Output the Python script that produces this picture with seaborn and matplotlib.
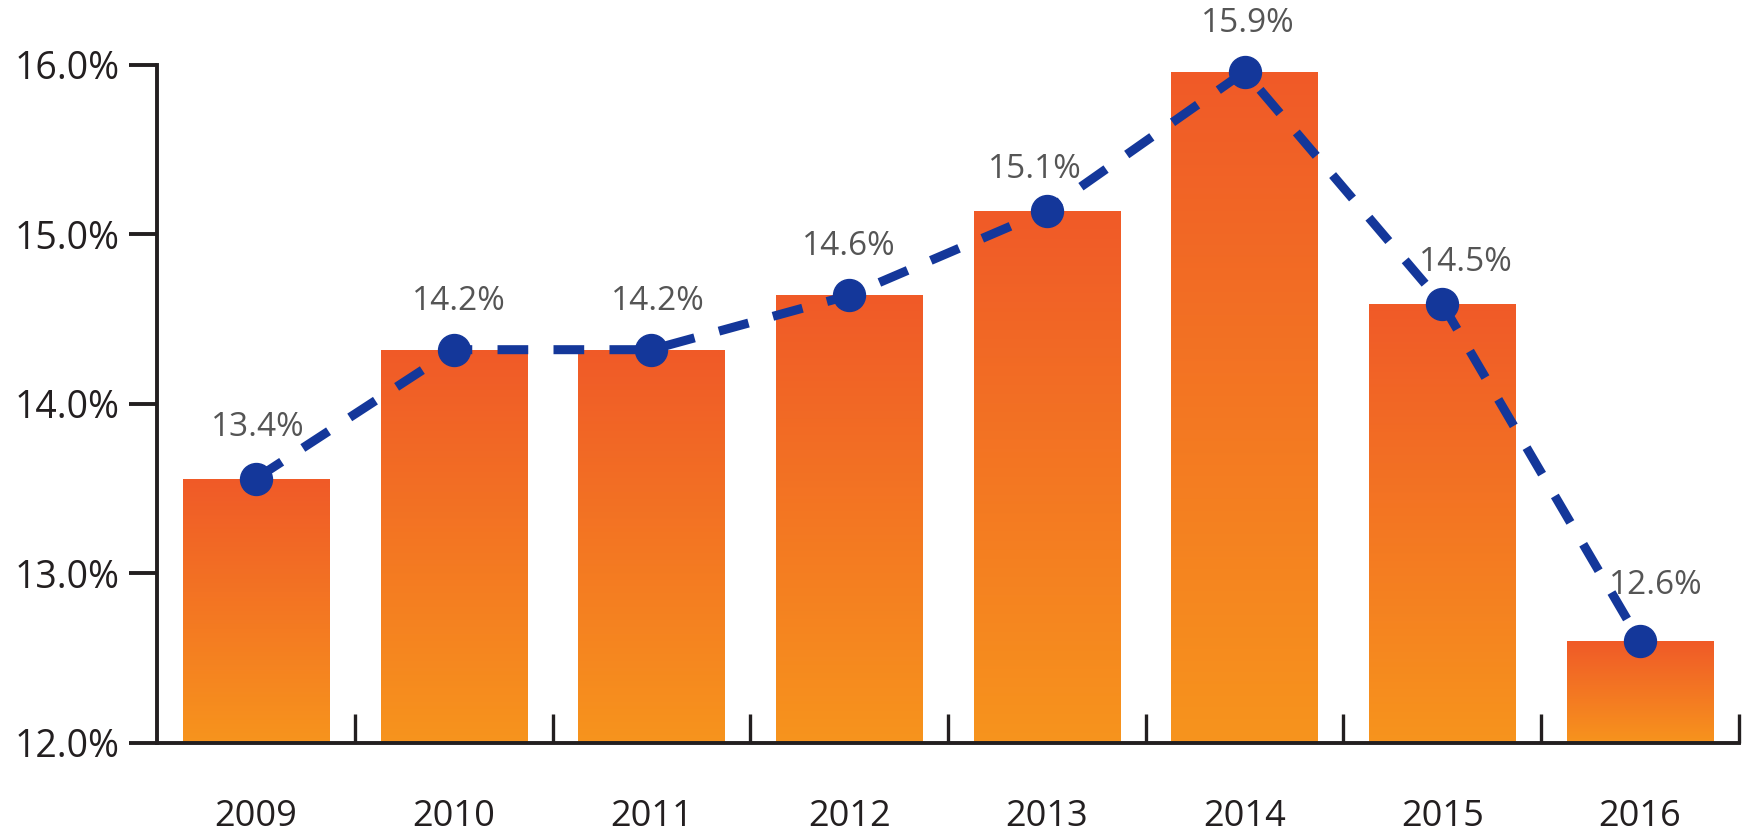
import seaborn as sns
import matplotlib
matplotlib.use("Agg")
import matplotlib.pyplot as plt
import numpy as np
import pandas as pd
from matplotlib.ticker import FixedLocator, FuncFormatter
from matplotlib.colors import LinearSegmentedColormap

# Du lieu doc tu hinh
years = ["2009", "2010", "2011", "2012", "2013", "2014", "2015", "2016"]
values = [13.56, 14.32, 14.32, 14.64, 15.14, 15.96, 14.59, 12.60]
labels = ["13.4%", "14.2%", "14.2%", "14.6%", "15.1%", "15.9%", "14.5%", "12.6%"]
yticks = [12.0, 13.0, 14.0, 15.0, 16.0]

# do lech cua nhan (points)
label_dx = [1.5, 3.5, 5, 0, -8.5, 2, 17, 11.5]
label_dy = [37, 35, 35, 35, 30, 35, 30, 40]

df = pd.DataFrame({"year": years, "value": values})

sns.set_style("white")
plt.rcParams['font.family'] = ['Open Sans', 'DejaVu Sans']

fig = plt.figure(figsize=(17.57, 8.32), dpi=100)
ax = fig.add_axes([0.0894, 0.107, 0.9003, 0.815])

sns.barplot(data=df, x="year", y="value", color="#F26B24", width=0.74,
            ax=ax, zorder=2)

# To mau gradient cho cot
cmap = LinearSegmentedColormap.from_list("cam", ["#F7941D", "#F05A28"])
grad = np.linspace(0, 1, 256).reshape(-1, 1)
for bar in ax.patches:
    x0, w = bar.get_x(), bar.get_width()
    h = bar.get_height()
    bar.set_facecolor("none")
    bar.set_edgecolor("none")
    im = ax.imshow(grad, cmap=cmap, origin="lower", aspect="auto",
                   extent=[x0, x0 + w, 12.0, h], zorder=2)
    im.set_clip_path(bar)

# Duong net dut
line_color = "#14379A"
ax.plot(range(len(years)), values, color=line_color, linestyle=(0, (3.4, 2.8)),
        linewidth=6.5, marker="o", markersize=23, zorder=4, clip_on=False)

# Nhan phan tram
for i, (v, lab) in enumerate(zip(values, labels)):
    ax.annotate(lab, (i, v), xytext=(label_dx[i], label_dy[i]),
                textcoords="offset points", ha="center", va="center",
                fontsize=24, color="#555555", annotation_clip=False, zorder=5)

ax.set_ylim(12.0, 16.0)
ax.set_xlim(-0.5, len(years) - 0.5)
ax.set_yticks(yticks)
ax.yaxis.set_major_formatter(FuncFormatter(lambda v, p: f"{v:.1f}%"))

ax.set_xlabel("")
ax.set_ylabel("")

for s in ["top", "right"]:
    ax.spines[s].set_visible(False)
for s in ["left", "bottom"]:
    ax.spines[s].set_linewidth(2.8)
    ax.spines[s].set_color("#231F20")

ax.tick_params(axis="y", direction="out", length=20, width=2.8,
               color="#231F20", labelsize=27, labelcolor="#231F20", pad=7,
               left=True)
ax.tick_params(axis="x", which="major", length=0, labelsize=26,
               labelcolor="#231F20", pad=40)
ax.xaxis.set_minor_locator(FixedLocator(np.arange(0.5, len(years), 1.0)))
ax.tick_params(axis="x", which="minor", direction="in", length=21,
               width=2.4, color="#231F20", bottom=True)

fig.savefig("out.png", dpi=100)
